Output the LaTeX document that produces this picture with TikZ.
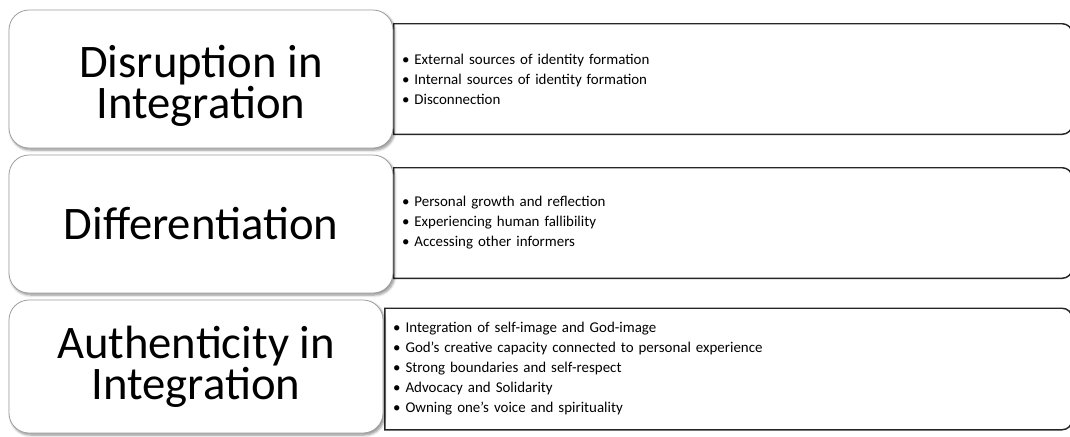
\documentclass[tikz,border=0pt]{standalone}
\usepackage{fontspec}
\setmainfont{Carlito}
\usepackage{tikz}
\usetikzlibrary{positioning}
\usetikzlibrary{shadows.blur}

\tikzset{
	stage/.style={rectangle, rounded corners=15pt, draw=gray!75, line width=0.6pt, fill=white,
		blur shadow={shadow xshift=1.2pt, shadow yshift=-1.5pt, shadow blur steps=6, shadow opacity=45},
		inner sep=0pt},
	stagetext/.style={align=center, inner sep=0pt, font=\fontsize{35}{30.5}\selectfont},
	items/.style={rectangle, inner xsep=6pt, inner ysep=0pt, text width=496.5pt, align=left,
		font=\fontsize{11.2}{15}\selectfont},
	itemline/.style={draw=black!85, line width=1.1pt}
}

\begin{document}
\begin{tikzpicture}[x=0.75pt,y=-0.75pt]
					\useasboundingbox (0,0) rectangle (1070,436);
					%Nodes
					\node[items, minimum height=82.5pt] (d) at (733,79) {%
						• External sources of identity formation\\
						• Internal sources of identity formation\\
						• Disconnection};
					\node[items, minimum height=82.5pt] (f) at (733,223) {%
						• Personal growth and reflection\\
						• Experiencing human fallibility\\
						• Accessing other informers};
					\node[items, minimum height=90.75pt, text width=503pt] (a) at (728.5,369) {%
						• Integration of self-image and God-image\\
						• God's creative capacity connected to personal experience\\
						• Strong boundaries and self-respect\\
						• Advocacy and Solidarity\\
						• Owning one's voice and spirituality};

					%Lines
					\foreach \n in {d,f,a}
						\draw[itemline] (\n.south west) -- (\n.north west) -- ([xshift=-7.5pt]\n.north east)
							arc[start angle=90, end angle=0, radius=7.5pt] -- ([yshift=7.5pt]\n.south east)
							arc[start angle=0, end angle=-90, radius=7.5pt] -- cycle;

					\node[stage, minimum width=288pt, minimum height=103.5pt] (disruption) at (201,79) {};
					\node[stage, minimum width=288pt, minimum height=103.5pt] (differentiation) at (201,224) {};
					\node[stage, minimum width=280.5pt, minimum height=99.75pt] (authenticity) at (196,366.5) {};

					\node[stagetext, yshift=-5pt] (disruptiontext) at (disruption) {Disruption in\\Integration};
					\node[stagetext] (differentiationtext) at (differentiation) {Differentiation};
					\node[stagetext] (authenticitytext) at (authenticity) {Authenticity in\\Integration};

				\end{tikzpicture}
\end{document}
